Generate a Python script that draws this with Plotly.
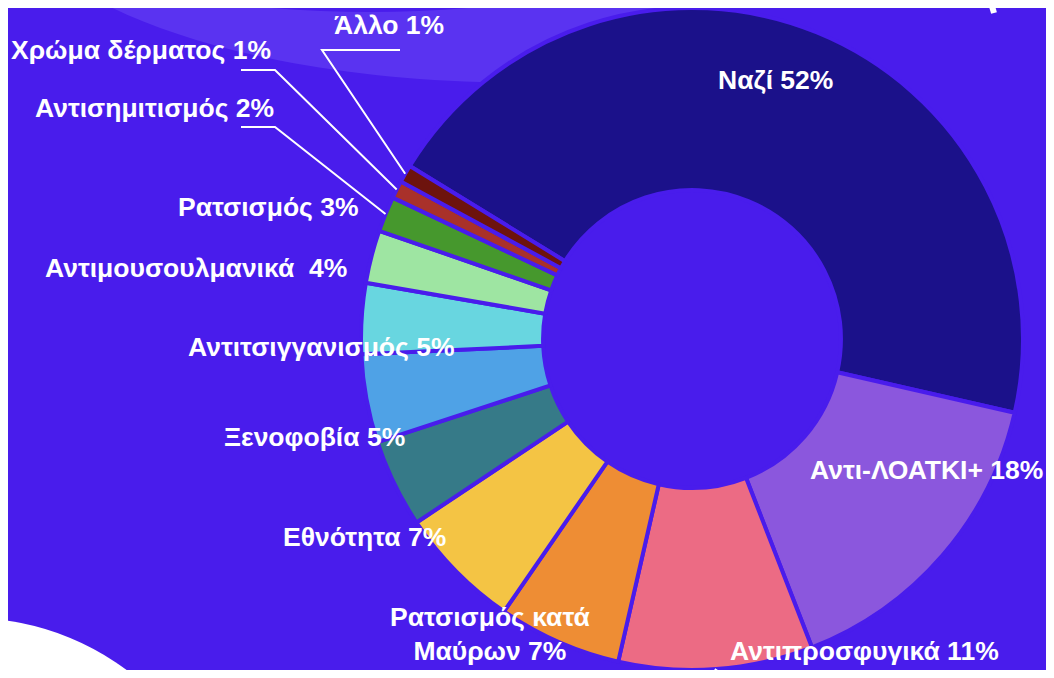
import math
import plotly.graph_objects as go

# ---------------- data ----------------
categories = ["Ναζί", "Αντι-ΛΟΑΤΚΙ+", "Αντιπροσφυγικά", "Ρατσισμός κατά Μαύρων",
              "Εθνότητα", "Ξενοφοβία", "Αντιτσιγγανισμός", "Αντιμουσουλμανικά",
              "Ρατσισμός", "Αντισημιτισμός", "Χρώμα δέρματος", "Άλλο"]
values = [52, 18, 11, 7, 7, 5, 5, 4, 3, 2, 1, 1]
display_names = ["Ναζί", "Αντι-ΛΟΑΤΚΙ+", "Αντιπροσφυγικά", "Ρατσισμός κατά<br>Μαύρων",
                 "Εθνότητα", "Ξενοφοβία", "Αντιτσιγγανισμός", "Αντιμουσουλμανικά\u00a0",
                 "Ρατσισμός", "Αντισημιτισμός", "Χρώμα δέρματος", "Άλλο"]
colors = ["#1B118A", "#8B57DD", "#EC6B84", "#EE8D34", "#F4C444", "#367A88",
          "#4FA2E6", "#68D6E0", "#9EE5A2", "#46982D", "#A9312A", "#6D130D"]

# ---------------- layout / style ----------------
OFF = 8                       # page body margin
W, H = 1054 - 2 * OFF, 678 - 2 * OFF
BG = "#491CEC"
BAND = "#5A33F1"
CX = 692 - OFF                # pie centre x (figure px)
Y0 = 0.0                      # bottom of pie domain (paper)
ROTATION = 301.5
HOLE = 0.45
R = H * (1 - Y0) / 2
CY = R                        # pie centre y from figure top (px)

# label positions (page px, centre of text)
label_pos = [(775, 80), (926, 470), (864, 651), (490, 634), (364, 537), (314, 437),
             (321, 347), (196, 268), (268, 207), (154, 108), (141, 50), (389, 25)]
leader_slices = {11: [(400, 50), (322, 50)], 10: [(241, 70), (275, 70)],
                 9: [(241, 127), (275, 127)]}


def P(x, y):
    """page px -> paper"""
    return (x - OFF) / W, 1 - (y - OFF) / H


def F(x, y):
    """figure px -> paper"""
    return x / W, 1 - y / H


fig = go.Figure()
fig.add_trace(go.Pie(
    labels=categories, values=values, sort=False, direction="clockwise",
    rotation=ROTATION, hole=HOLE, textinfo="none", hoverinfo="label+value",
    marker=dict(colors=colors, line=dict(color=BG, width=4)),
    domain=dict(x=[(CX - 345) / W, min(1, (CX + 345) / W)], y=[Y0, 1]),
    showlegend=False,
))

total = sum(values)
cum = 0
mids = []
for v in values:
    mids.append(ROTATION + (cum + v / 2) / total * 360)
    cum += v


def edge_point(i, rr=R):
    a = math.radians(mids[i])
    return CX + rr * math.sin(a), CY - rr * math.cos(a)


shapes = []
# decorative band top-left
band = [(97, 0), (180, 45), (320, 78), (480, 82)]
pts = "M {},{} C {},{} {},{} {},{}".format(*[c for p in band for c in P(*p)])
pts += " L {},{} L {},{} L {},{}".format(*P(720, 82), *P(720, -10), *P(540, -10))
pts += " L {},{} Q {},{} {},{} L {},{} Z".format(*P(540, 0), *P(370, 24), *P(200, 0), *P(200, -10))
shapes.append(dict(type="path", path=pts, xref="paper", yref="paper",
                   fillcolor=BAND, line=dict(width=0), layer="below"))
# white circle bottom-left
x0, y0 = P(-292, 618)
x1, y1 = P(232, 1142)
shapes.append(dict(type="circle", xref="paper", yref="paper", x0=x0, y0=y1, x1=x1, y1=y0,
                   fillcolor="white", line=dict(width=0), layer="below"))
# white stroke top-right
shapes.append(dict(type="line", xref="paper", yref="paper",
                   x0=P(989, -4)[0], y0=P(989, -4)[1], x1=P(994, 13)[0], y1=P(994, 13)[1],
                   line=dict(color="white", width=6), layer="below"))

# leader lines
for i, elbow in leader_slices.items():
    ex, ey = edge_point(i)
    seq = [P(*p) for p in elbow] + [F(ex, ey)]
    path = "M " + " L ".join("{},{}".format(x, y) for x, y in seq)
    shapes.append(dict(type="path", path=path, xref="paper", yref="paper",
                       line=dict(color="white", width=2), layer="above"))
ex, ey = edge_point(2, R - 20)
shapes.append(dict(type="line", xref="paper", yref="paper",
                   x0=F(ex, ey + 20)[0], y0=F(ex, ey + 20)[1],
                   x1=F(ex + 0.55 * (H + 10 - ey), H + 10)[0], y1=F(0, H + 10)[1],
                   line=dict(color="white", width=2), layer="above"))

annotations = []
for i, (name, v) in enumerate(zip(display_names, values)):
    x, y = P(*label_pos[i])
    annotations.append(dict(
        text="<b>{} {}%</b>".format(name, v), x=x, y=y, xref="paper", yref="paper",
        xanchor="center", yanchor="middle", showarrow=False,
        font=dict(family="Liberation Sans, Arial, sans-serif", size=26.5, color="white"),
        align="center"))

fig.update_layout(
    width=W, height=H, margin=dict(l=0, r=0, t=0, b=0),
    paper_bgcolor=BG, plot_bgcolor=BG,
    shapes=shapes, annotations=annotations,
)
fig.write_html("out.html")
